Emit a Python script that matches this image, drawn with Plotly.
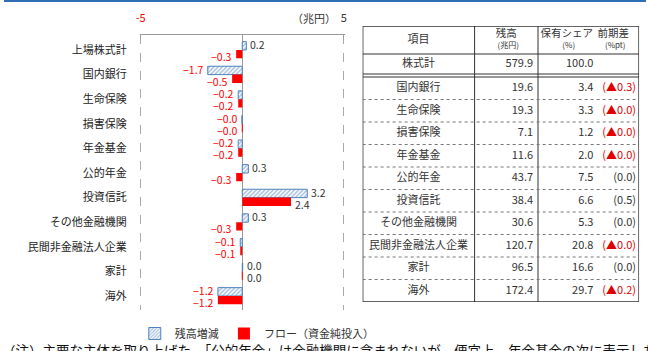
import plotly.graph_objects as go

# ---------------- data ----------------
categories = ["上場株式計", "国内銀行", "生命保険", "損害保険", "年金基金", "公的年金",
              "投資信託", "その他金融機関", "民間非金融法人企業", "家計", "海外"]
stock_change = [0.2, -1.7, -0.2, -0.02, -0.2, 0.3, 3.2, 0.3, -0.1, 0.02, -1.2]
net_flow = [-0.3, -0.5, -0.2, -0.02, -0.2, -0.3, 2.4, -0.3, -0.1, 0.02, -1.2]

table_items = ["株式計", "国内銀行", "生命保険", "損害保険", "年金基金", "公的年金",
               "投資信託", "その他金融機関", "民間非金融法人企業", "家計", "海外"]
balance = [579.9, 19.6, 19.3, 7.1, 11.6, 43.7, 38.4, 30.6, 120.7, 96.5, 172.4]
share = [100.0, 3.4, 3.3, 1.2, 2.0, 7.5, 6.6, 5.3, 20.8, 16.6, 29.7]
share_diff = [None, -0.3, -0.01, -0.01, -0.01, 0.0, 0.5, 0.0, -0.01, 0.0, -0.2]

header_main = ["項目", "残高", "保有シェア", "前期差"]
header_unit = ["", "(兆円)", "(%)", "(%pt)"]

FONT = "Noto Sans CJK JP"
RED = "#FF0000"
DARK = "#333333"
BLUE = "#4F81BD"

W, H = 648, 351


def px_x(p):
    return p / W


def px_y(p):
    return 1 - p / H


def fmt(v):
    return ("−" if v < 0 else "") + f"{abs(v):.1f}"


fig = go.Figure()

fig.add_trace(go.Bar(
    name="残高増減", y=categories, x=stock_change, orientation="h",
    marker=dict(color="white", line=dict(color=BLUE, width=1),
                pattern=dict(shape="/", fgcolor=BLUE, bgcolor="white", size=3, solidity=0.5)),
    hoverinfo="skip", legend="legend",
))
fig.add_trace(go.Bar(
    name="フロー（資金純投入）", y=categories, x=net_flow, orientation="h",
    marker=dict(color=RED, line=dict(width=0)),
    hoverinfo="skip", legend="legend2",
))

# value labels tied to the bar ends through the axes
annotations = []
for vals, yshift in ((stock_change, 5.5), (net_flow, -6.5)):
    for cat, v in zip(categories, vals):
        annotations.append(dict(
            xref="x", yref="y", x=v, y=cat, text=fmt(v), showarrow=False,
            xanchor="right" if v < 0 else "left", xshift=-3 if v < 0 else 3,
            yanchor="middle", yshift=yshift, borderpad=0,
            font=dict(size=10.5, family=FONT, color=RED if v < 0 else DARK)))

# ---------------- table (on its own axes, pixel-like units) ----------------
TW, TH = 279, 276
col_edges = [0, 113, 177, TW]
item_x = 56.5
bal_x = 172
share_x = 233
diff_x = 276
head_x = [56.5, 145, 206, 253]
head_bottom = 28
total_bottom = 48
body_top = 51
row_h = 22.5

row_y = [38] + [body_top + row_h * i + row_h / 2 for i in range(len(table_items) - 1)]

tkw = dict(mode="text", xaxis="x2", yaxis="y2", showlegend=False, hoverinfo="skip",
           cliponaxis=False)

fig.add_trace(go.Scatter(x=[head_x[0]], y=[14], text=[header_main[0]],
                         textposition="middle center",
                         textfont=dict(size=11, color=DARK, family=FONT), **tkw))
fig.add_trace(go.Scatter(x=head_x[1:], y=[8] * 3, text=header_main[1:],
                         textposition="middle center",
                         textfont=dict(size=10.5, color=DARK, family=FONT), **tkw))
fig.add_trace(go.Scatter(x=[h + 2 for h in head_x[1:]], y=[20] * 3, text=header_unit[1:],
                         textposition="middle center",
                         textfont=dict(size=8, color=DARK, family=FONT), **tkw))
fig.add_trace(go.Scatter(x=[item_x] * len(table_items), y=row_y, text=table_items,
                         textposition="middle center",
                         textfont=dict(size=11, color=DARK, family=FONT), **tkw))
fig.add_trace(go.Scatter(x=[bal_x] * len(balance), y=row_y, text=[f"{v:.1f}" for v in balance],
                         textposition="middle left",
                         textfont=dict(size=11, color=DARK, family=FONT), **tkw))
fig.add_trace(go.Scatter(x=[share_x] * len(share), y=row_y, text=[f"{v:.1f}" for v in share],
                         textposition="middle left",
                         textfont=dict(size=11, color=DARK, family=FONT), **tkw))
d_y = [y for y, d in zip(row_y, share_diff) if d is not None]
d_vals = [d for d in share_diff if d is not None]
fig.add_trace(go.Scatter(
    x=[diff_x] * len(d_vals), y=d_y,
    text=[f"(▲{abs(d):.1f})" if d < 0 else f"({d:.1f})" for d in d_vals],
    textposition="middle left",
    textfont=dict(size=11, color=["#E00000" if d < 0 else DARK for d in d_vals], family=FONT),
    **tkw))

shapes = []
lk = dict(xref="x2", yref="y2")
shapes.append(dict(type="rect", x0=0, x1=TW, y0=0, y1=TH, line=dict(color=DARK, width=1.5), **lk))
for xe in col_edges[1:3]:
    shapes.append(dict(type="line", x0=xe, x1=xe, y0=0, y1=TH, line=dict(color=DARK, width=1), **lk))
for ye in [head_bottom, total_bottom, body_top]:
    shapes.append(dict(type="line", x0=0, x1=TW, y0=ye, y1=ye, line=dict(color=DARK, width=1), **lk))
for i in range(1, len(table_items) - 1):
    ye = body_top + row_h * i
    shapes.append(dict(type="line", x0=0, x1=TW, y0=ye, y1=ye,
                       line=dict(color="#777777", width=1, dash="dot"), **lk))

# top blue rule
shapes.append(dict(type="line", xref="paper", yref="paper", x0=0, x1=1,
                   y0=px_y(1), y1=px_y(1), line=dict(color="#2F6EB5", width=2)))

annotations += [
    dict(xref="paper", yref="paper", x=px_x(337), y=px_y(18), text="（兆円）",
         showarrow=False, xanchor="right", yanchor="middle",
         font=dict(size=11, family=FONT, color=DARK)),
    dict(xref="paper", yref="paper", x=px_x(-4), y=px_y(338), xanchor="left", yanchor="top",
         text="（注）主要な主体を取り上げた。「公的年金」は金融機関に含まれないが、便宜上、年金基金の次に表示した",
         showarrow=False, font=dict(size=13.5, family=FONT, color="#111111")),
]

leg_common = dict(orientation="h", xanchor="left", yanchor="top",
                  font=dict(size=11, color=DARK, family=FONT), itemwidth=30,
                  bgcolor="rgba(0,0,0,0)")

fig.update_layout(
    width=W, height=H,
    margin=dict(l=0, r=0, t=0, b=0),
    paper_bgcolor="white", plot_bgcolor="white",
    font=dict(family=FONT, size=11, color=DARK),
    barmode="group", bargap=0.32, bargroupgap=0,
    showlegend=True,
    legend=dict(x=px_x(132), y=px_y(319), **leg_common),
    legend2=dict(x=px_x(222), y=px_y(319), **leg_common),
    xaxis=dict(domain=[px_x(137), px_x(344)], range=[-5.05, 5.05], side="top",
               tickvals=[-5, 5],
               ticktext=["<span style='color:#FF0000'>-5</span>", "5"],
               tickfont=dict(size=11, family=FONT, color=DARK),
               ticks="inside", ticklen=4, tickcolor="#999999",
               showline=True, linecolor="#999999", linewidth=1,
               showgrid=True, gridcolor="#AAAAAA", griddash="dash", gridwidth=1,
               zeroline=True, zerolinecolor="#999999", zerolinewidth=1,
               ticklabelstandoff=8, fixedrange=True),
    yaxis=dict(domain=[px_y(310), px_y(35)], type="category",
               categoryorder="array", categoryarray=categories, autorange="reversed",
               showline=False, showgrid=False, zeroline=False, ticks="",
               tickfont=dict(size=11, family=FONT, color="#222222"),
               ticklabelstandoff=12, fixedrange=True),
    xaxis2=dict(domain=[px_x(362), px_x(641)], range=[0, TW], visible=False,
                anchor="y2", fixedrange=True),
    yaxis2=dict(domain=[px_y(302), px_y(26)], range=[TH, 0], visible=False,
                anchor="x2", fixedrange=True),
    shapes=shapes,
    annotations=annotations,
)

fig.write_html("out.html")
